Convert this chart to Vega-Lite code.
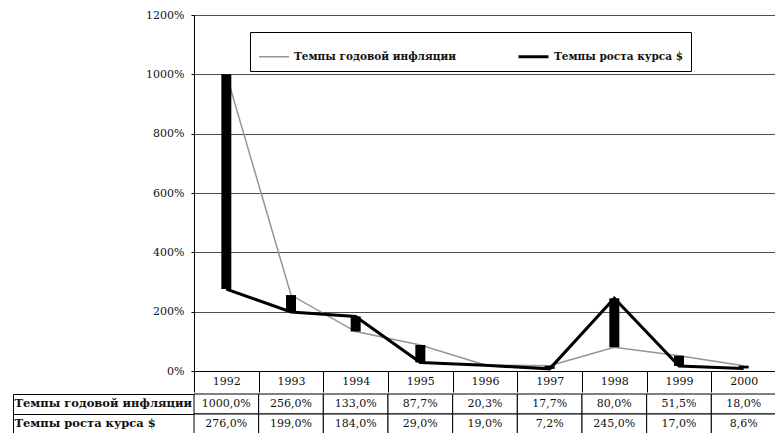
{
  "$schema": "https://vega.github.io/schema/vega-lite/v6.json",
  "padding": {"left": 12, "top": 9, "right": 0, "bottom": 0},
  "spacing": 0,
  "background": "white",
  "config": {
    "font": "DejaVu Serif",
    "view": {"stroke": null},
    "axis": {"labelColor": "#111", "domainColor": "#000", "tickColor": "#000", "titleFont": "DejaVu Serif", "labelFont": "DejaVu Serif"}
  },
  "datasets": {
    "d": [
      {"year": 1992, "inf": 1000, "rate": 276},
      {"year": 1993, "inf": 256, "rate": 199},
      {"year": 1994, "inf": 133, "rate": 184},
      {"year": 1995, "inf": 87.7, "rate": 29},
      {"year": 1996, "inf": 20.3, "rate": 19},
      {"year": 1997, "inf": 17.7, "rate": 7.2},
      {"year": 1998, "inf": 80, "rate": 245},
      {"year": 1999, "inf": 51.5, "rate": 17},
      {"year": 2000, "inf": 18, "rate": 8.6}
    ]
  },
  "vconcat": [
    {
      "width": 582,
      "height": 356,
      "data": {"name": "d"},
      "encoding": {
        "x": {
          "field": "year", "type": "ordinal",
          "scale": {"paddingInner": 0, "paddingOuter": 0},
          "axis": {"title": null, "labelAngle": 0, "tickBand": "extent", "tickSize": 21, "labelPadding": -17, "labelFontSize": 11, "grid": false}
        }
      },
      "layer": [
        {
          "transform": [{"fold": ["inf", "rate"], "as": ["series", "value"]}],
          "mark": {"type": "line"},
          "encoding": {
            "y": {
              "field": "value", "type": "quantitative",
              "scale": {"domain": [0, 1200], "nice": false},
              "axis": {"title": null, "values": [0, 200, 400, 600, 800, 1000, 1200], "labelExpr": "datum.value + '%'", "grid": true, "gridColor": "#222", "gridWidth": 0.8, "tickSize": 3, "labelFontSize": 11, "labelPadding": 7}
            },
            "color": {
              "field": "series", "type": "nominal",
              "scale": {"domain": ["inf", "rate"], "range": ["#959595", "#000000"]},
              "legend": {
                "orient": "none", "legendX": 56, "legendY": 17, "direction": "horizontal",
                "title": null, "strokeColor": "#000", "fillColor": "white", "padding": 8,
                "symbolType": "stroke", "symbolSize": 900, "labelFontSize": 10.5, "labelFontWeight": "bold", "labelColor": "#111", "labelLimit": 0,
                "columnPadding": 55,
                "labelExpr": "datum.label == 'inf' ? 'Темпы годовой инфляции' : 'Темпы роста курса $'"
              }
            },
            "strokeWidth": {
              "field": "series", "type": "nominal",
              "scale": {"domain": ["inf", "rate"], "range": [1.5, 3]},
              "legend": {
                "orient": "none", "legendX": 56, "legendY": 17, "direction": "horizontal",
                "title": null, "strokeColor": "#000", "fillColor": "white", "padding": 8,
                "symbolType": "stroke", "symbolSize": 900, "labelFontSize": 10.5, "labelFontWeight": "bold", "labelColor": "#111", "labelLimit": 0,
                "columnPadding": 55,
                "labelExpr": "datum.label == 'inf' ? 'Темпы годовой инфляции' : 'Темпы роста курса $'"
              }
            }
          }
        },
        {
          "mark": {"type": "bar", "size": 10, "color": "#000"},
          "encoding": {
            "y": {"field": "inf", "type": "quantitative"},
            "y2": {"field": "rate"}
          }
        }
      ]
    },
    {
      "width": 582,
      "height": 40,
      "data": {"name": "d"},
      "transform": [
        {"fold": ["inf", "rate"], "as": ["series", "value"]},
        {"calculate": "replace(format(datum.value, '.1f'), '.', ',') + '%'", "as": "label"}
      ],
      "encoding": {
        "x": {"field": "year", "type": "ordinal", "scale": {"paddingInner": 0, "paddingOuter": 0}, "axis": null}
      },
      "layer": [
        {
          "mark": {"type": "rect", "fill": "white", "stroke": "#000", "strokeWidth": 1},
          "encoding": {
            "y": {
              "field": "series", "type": "nominal",
              "scale": {"domain": ["inf", "rate"], "paddingInner": 0, "paddingOuter": 0},
              "axis": {"title": null, "domain": false, "ticks": false, "labelAlign": "left", "labelPadding": 180, "labelFontSize": 11.5, "labelFontWeight": "bold", "labelColor": "#111",
                       "labelExpr": "datum.label == 'inf' ? 'Темпы годовой инфляции' : 'Темпы роста курса $'"}
            }
          }
        },
        {
          "mark": {"type": "text", "fontSize": 11, "color": "#111"},
          "encoding": {
            "y": {
              "field": "series", "type": "nominal",
              "axis": {"orient": "left", "title": null, "domain": false, "labels": false, "tickBand": "extent", "tickSize": 181}
            },
            "text": {"field": "label"}
          }
        },
        {
          "mark": {"type": "text", "opacity": 0},
          "encoding": {
            "y": {
              "field": "series", "type": "nominal",
              "axis": {"orient": "left", "title": null, "domain": true, "domainColor": "#000", "labels": false, "ticks": false, "offset": 181}
            },
            "text": {"field": "label"}
          }
        }
      ],
      "resolve": {"axis": {"y": "independent"}}
    }
  ]
}
